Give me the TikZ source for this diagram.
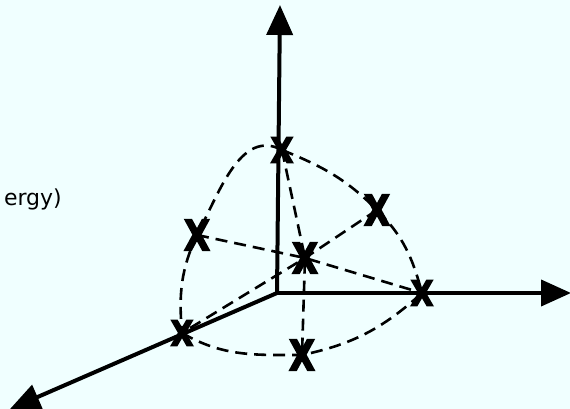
\documentclass[tikz,border=0pt]{standalone}
\usepackage{fontspec}
\setmainfont{Liberation Sans}
\newfontfamily\labelfont{DejaVu Sans}
\newfontfamily\xfont[FakeBold=4]{DejaVu Sans Bold}
\usetikzlibrary{arrows.meta}
\definecolor{bgcyan}{HTML}{F0FFFF}
\begin{document}
\begin{tikzpicture}[x=1pt,y=1pt,
  axis/.style={line width=4pt,-{Triangle[length=30pt,width=26pt]}},
  dashline/.style={line width=2.6pt,dash pattern=on 12pt off 7pt},
  xbig/.style={inner sep=0pt,font=\xfont\fontsize{42}{42}\selectfont},
  xsmall/.style={inner sep=0pt,font=\xfont\fontsize{35}{35}\selectfont}]
\fill[bgcyan] (0,0) rectangle (570,409);
\useasboundingbox (0,0) rectangle (570,409);
% axes
\coordinate (O) at (277,116);
\coordinate (Zt) at (280,404);
\coordinate (Xt) at (571,116);
\coordinate (Yt) at (10,0);
\draw[axis] (O) -- (Zt);
\draw[axis] (O) -- (Xt);
\draw[axis] (O) -- (Yt);
% label
\node[font=\labelfont\fontsize{22}{22}\selectfont,anchor=base east,inner sep=0pt] (lab) at (62,203) {ergy)};
% marks
\coordinate (T) at (282,259);
\coordinate (U) at (377,199);
\coordinate (L) at (197,174);
\coordinate (C) at (305,151);
\coordinate (R) at (422,116);
\coordinate (W) at (182,76);
\coordinate (B) at (302,54);
% dashed curves
\draw[dashline] (T) to[out=-22,in=135] (U) to[out=-45,in=105] (R);
\draw[dashline] (T) to[out=152,in=62] (L) to[out=-115,in=95] (W);
\draw[dashline] (W) to[out=-30,in=180] (B) to[out=12,in=222] (R);
% dashed straight lines
\draw[dashline] (U) -- (C) -- (W);
\draw[dashline] (L) -- (C) -- (R);
\draw[dashline] (T) -- (C) -- (B);
% crosses
\node[xsmall] (nT) at (T) {\scalebox{0.85}[1]{X}};
\node[xbig] (nU) at (U) {\scalebox{0.8}[1]{X}};
\node[xbig] (nL) at (L) {\scalebox{0.8}[1]{X}};
\node[xbig] (nC) at (C) {\scalebox{0.8}[1]{X}};
\node[xsmall] (nR) at (R) {\scalebox{0.85}[1]{X}};
\node[xsmall] (nW) at (W) {\scalebox{0.85}[1]{X}};
\node[xbig] (nB) at (B) {\scalebox{0.8}[1]{X}};
\end{tikzpicture}
\end{document}
